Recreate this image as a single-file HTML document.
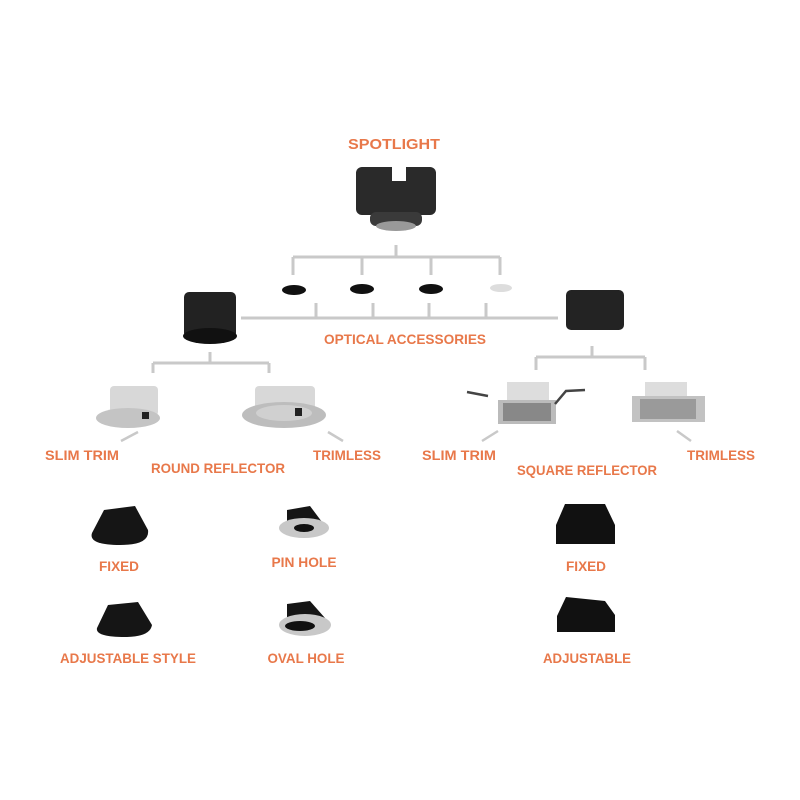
<!DOCTYPE html>
<html><head><meta charset="utf-8"><style>
html,body{margin:0;padding:0;background:#fff;width:800px;height:800px;overflow:hidden}
svg{display:block}
text{font-family:"Liberation Sans",sans-serif;font-weight:bold;fill:#e8784a;font-size:14px;text-anchor:middle}
</style></head><body>
<svg width="800" height="800" viewBox="0 0 800 800">
<g stroke="#c9c9c9" stroke-width="3" fill="none">
<path d="M396 245V257M293 257H500M293 257V275M362 257V275M431 257V275M500 257V275"/>
<path d="M241 318H558M316 303V318M373 303V318M429 303V318M486 303V318"/>
<path d="M210 352V363M153 363H269M153 363V373M269 363V373"/>
<path d="M592 346V357M536 357H645M536 357V370M645 357V370"/>
<path d="M121 441L138 432M328 432L343 441M482 441L498 431M677 431L691 441" stroke-width="2.5"/>
</g>
<!-- spotlight -->
<rect x="356" y="167" width="80" height="48" rx="6" fill="#2a2a2a"/>
<rect x="392" y="167" width="14" height="14" fill="#fff"/>
<rect x="370" y="212" width="52" height="14" rx="6" fill="#3a3a3a"/>
<ellipse cx="396" cy="226" rx="20" ry="5" fill="#999"/>
<!-- discs -->
<ellipse cx="294" cy="290" rx="12" ry="5" fill="#111"/>
<ellipse cx="362" cy="289" rx="12" ry="5" fill="#111"/>
<ellipse cx="431" cy="289" rx="12" ry="5" fill="#111"/>
<ellipse cx="501" cy="288" rx="11" ry="4" fill="#ddd"/>
<!-- drums -->
<rect x="184" y="292" width="52" height="46" rx="5" fill="#222"/>
<ellipse cx="210" cy="336" rx="27" ry="8" fill="#111"/>
<rect x="566" y="290" width="58" height="40" rx="5" fill="#232323"/>
<!-- round devices -->
<rect x="110" y="386" width="48" height="30" rx="4" fill="#d8d8d8"/>
<ellipse cx="128" cy="418" rx="32" ry="10" fill="#c4c4c4"/>
<rect x="142" y="412" width="7" height="7" fill="#222"/>
<rect x="255" y="386" width="60" height="30" rx="4" fill="#d8d8d8"/>
<ellipse cx="284" cy="415" rx="42" ry="13" fill="#bdbdbd"/>
<ellipse cx="284" cy="413" rx="28" ry="8" fill="#d0d0d0"/>
<rect x="295" y="408" width="7" height="8" fill="#222"/>
<!-- square devices -->
<rect x="507" y="382" width="42" height="20" fill="#ddd"/>
<rect x="498" y="400" width="58" height="24" fill="#bbb"/>
<rect x="503" y="403" width="48" height="18" fill="#888"/>
<path d="M467 392L488 396M555 404L566 391L585 390" stroke="#444" stroke-width="2.5" fill="none"/>
<rect x="645" y="382" width="42" height="20" fill="#ddd"/>
<rect x="632" y="396" width="73" height="26" fill="#c2c2c2"/>
<rect x="640" y="399" width="56" height="20" fill="#9a9a9a"/>
<!-- accessories -->
<path d="M104 510L135 506L148 530Q150 545 120 545Q88 545 92 533Z" fill="#151515"/>
<path d="M108 605L138 602L152 625Q150 637 125 637Q95 637 97 628Z" fill="#151515"/>
<path d="M287 510L310 506L322 522L287 522Z" fill="#151515"/>
<ellipse cx="304" cy="528" rx="25" ry="10" fill="#c8c8c8"/>
<ellipse cx="304" cy="528" rx="10" ry="4" fill="#111"/>
<path d="M287 604L310 601L325 618L287 618Z" fill="#151515"/>
<ellipse cx="305" cy="625" rx="26" ry="11" fill="#c8c8c8"/>
<ellipse cx="300" cy="626" rx="15" ry="5" fill="#111"/>
<path d="M565 504L605 504L615 525L615 544L556 544L556 525Z" fill="#111"/>
<path d="M566 597L605 601L615 615L615 632L557 632L557 616Z" fill="#111"/>
<!-- labels -->
<text x="394" y="149" textLength="92" lengthAdjust="spacingAndGlyphs" style="font-size:15px">SPOTLIGHT</text>
<text x="405" y="344" textLength="162" lengthAdjust="spacingAndGlyphs">OPTICAL ACCESSORIES</text>
<text x="82" y="460" textLength="74" lengthAdjust="spacingAndGlyphs">SLIM TRIM</text>
<text x="218" y="473" textLength="134" lengthAdjust="spacingAndGlyphs">ROUND REFLECTOR</text>
<text x="347" y="460" textLength="68" lengthAdjust="spacingAndGlyphs">TRIMLESS</text>
<text x="459" y="460" textLength="74" lengthAdjust="spacingAndGlyphs">SLIM TRIM</text>
<text x="587" y="475" textLength="140" lengthAdjust="spacingAndGlyphs">SQUARE REFLECTOR</text>
<text x="721" y="460" textLength="68" lengthAdjust="spacingAndGlyphs">TRIMLESS</text>
<text x="119" y="571" textLength="40" lengthAdjust="spacingAndGlyphs">FIXED</text>
<text x="304" y="567" textLength="65" lengthAdjust="spacingAndGlyphs">PIN HOLE</text>
<text x="586" y="571" textLength="40" lengthAdjust="spacingAndGlyphs">FIXED</text>
<text x="128" y="663" textLength="136" lengthAdjust="spacingAndGlyphs">ADJUSTABLE STYLE</text>
<text x="306" y="663" textLength="77" lengthAdjust="spacingAndGlyphs">OVAL HOLE</text>
<text x="587" y="663" textLength="88" lengthAdjust="spacingAndGlyphs">ADJUSTABLE</text>
</svg>
</body></html>
